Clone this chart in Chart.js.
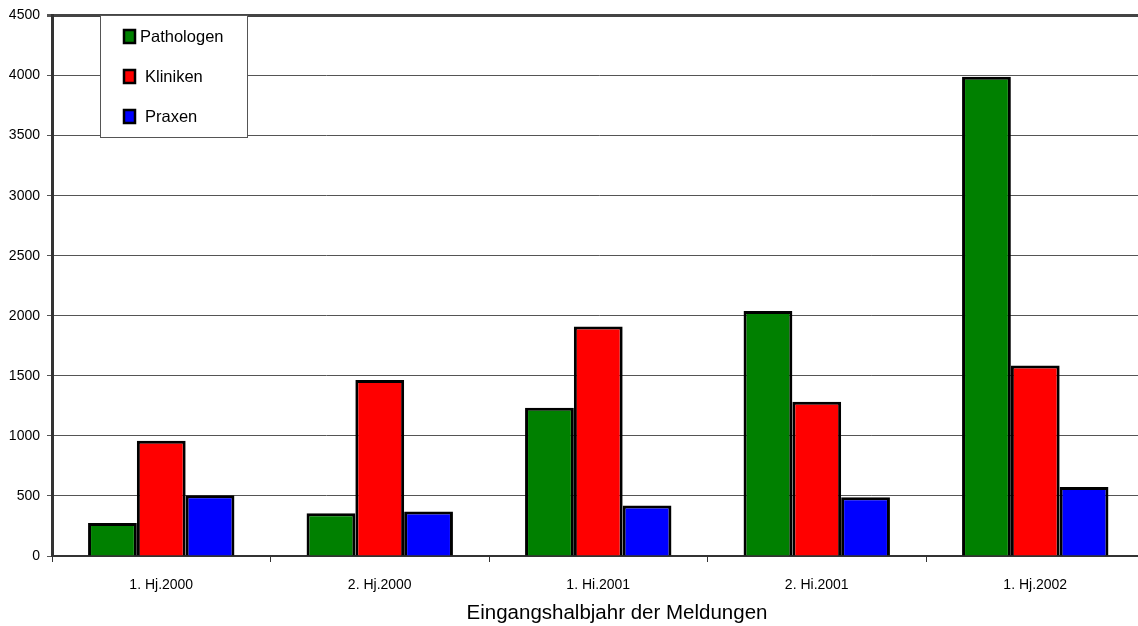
<!DOCTYPE html>
<html>
<head>
<meta charset="utf-8">
<script src="https://cdn.jsdelivr.net/npm/chart.js@4"></script>
<style>
  html, body { margin: 0; padding: 0; background: #fff; overflow: hidden; }
  #wrap { width: 1146px; height: 626px; }
</style>
</head>
<body>
<div id="wrap"><canvas id="meldungen" width="1146" height="626"></canvas></div>
<script>
//half-year categories on the x axis
const halbjahre = ["1. Hj.2000", "2. Hj.2000", "1. Hi.2001", "2. Hi.2001", "1. Hj.2002"];
//reports per sender group
const pathologen = [275, 355, 1235, 2040, 3990];
const kliniken = [960, 1465, 1910, 1285, 1585];
const praxen = [505, 370, 420, 490, 575];
//y axis range
const yMax = 4500;
const yStep = 500;

const sans = "'Liberation Sans', Arial, sans-serif";

//legend box in the upper left corner, drawn over the plot
const boxLegend = {
  id: "boxLegend",
  afterDraw(chart) {
    const ctx = chart.ctx;
    ctx.save();
    ctx.fillStyle = "#fff";
    ctx.fillRect(100.5, 15.5, 147, 122);
    ctx.strokeStyle = "#555";
    ctx.lineWidth = 1;
    ctx.strokeRect(100.5, 15.5, 147, 122);
    ctx.font = "16.5px " + sans;
    ctx.textBaseline = "middle";
    chart.data.datasets.forEach((ds, i) => {
      const cy = 36 + i * 40;
      ctx.fillStyle = ds.backgroundColor;
      ctx.fillRect(124, cy - 6, 11, 13);
      ctx.strokeStyle = "#000";
      ctx.lineWidth = 2.5;
      ctx.strokeRect(124, cy - 6, 11, 13);
      ctx.fillStyle = "#000";
      ctx.fillText(ds.label, i === 0 ? 140 : 145, cy + 1);
    });
    ctx.restore();
  }
};

//axis title under the category labels
const axisTitle = {
  id: "axisTitle",
  afterDraw(chart) {
    const ctx = chart.ctx;
    ctx.save();
    ctx.font = "20.5px " + sans;
    ctx.fillStyle = "#000";
    ctx.textAlign = "center";
    ctx.textBaseline = "middle";
    ctx.fillText("Eingangshalbjahr der Meldungen", 617, 613);
    ctx.restore();
  }
};

new Chart(document.getElementById("meldungen"), {
  type: "bar",
  plugins: [boxLegend, axisTitle],
  data: {
    labels: halbjahre,
    datasets: [
      { label: "Pathologen", data: pathologen, backgroundColor: "#008000" },
      { label: "Kliniken", data: kliniken, backgroundColor: "#ff0000" },
      { label: "Praxen", data: praxen, backgroundColor: "#0000ff" }
    ]
  },
  options: {
    responsive: false,
    animation: false,
    layout: { padding: { top: 15.5, right: 1.5, left: 0, bottom: 0 } },
    datasets: {
      bar: {
        borderColor: "#000",
        borderWidth: 3,
        barPercentage: 1,
        categoryPercentage: 0.67
      }
    },
    plugins: {
      legend: { display: false },
      tooltip: { enabled: false }
    },
    scales: {
      x: {
        afterFit: (scale) => { scale.height = 70; },
        grid: {
          offset: true,
          drawOnChartArea: false,
          tickLength: 6,
          tickColor: "#333",
          tickWidth: 1
        },
        border: { color: "#333", width: 2 },
        ticks: {
          color: "#000",
          padding: 15,
          font: { family: sans, size: 14 }
        }
      },
      y: {
        min: 0,
        max: yMax,
        afterFit: (scale) => { scale.width = 52; },
        grid: {
          color: (c) => (c.tick && c.tick.value === yMax ? "#444" : "#555"),
          lineWidth: (c) => (c.tick && c.tick.value === yMax ? 3 : 1),
          tickLength: 5,
          tickColor: "#555"
        },
        border: { color: "#333", width: 3 },
        ticks: {
          stepSize: yStep,
          color: "#000",
          padding: 7,
          font: { family: sans, size: 14 },
          callback: (v) => String(v)
        }
      }
    }
  }
});
</script>
</body>
</html>
